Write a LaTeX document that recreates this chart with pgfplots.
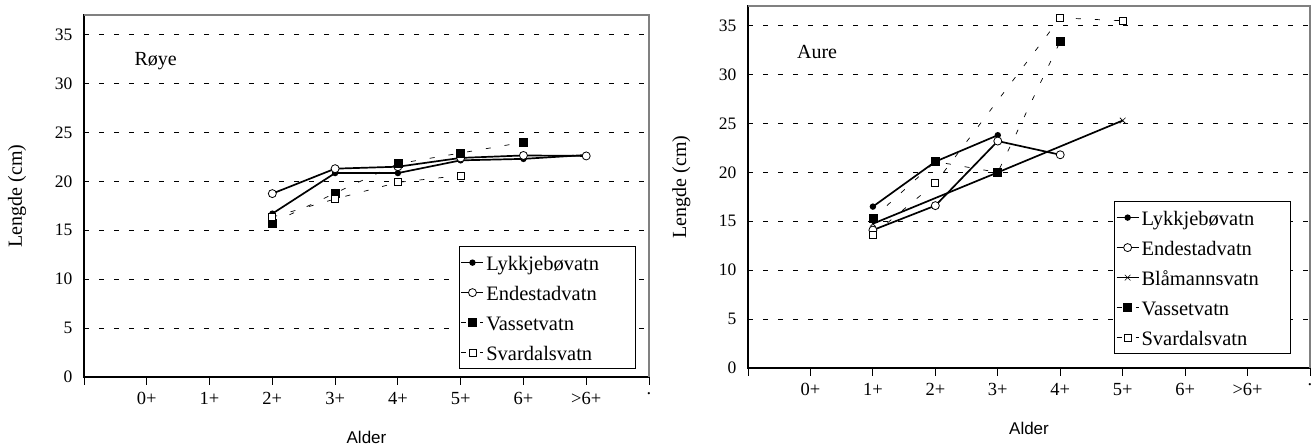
\documentclass[border=0pt]{standalone}
\usepackage{pgfplots}
\pgfplotsset{compat=1.18}
\usepackage{pgfplotstable}
\usepackage{fontspec}
\setmainfont{Liberation Serif}
\newfontfamily\arialfont{Liberation Sans}
\newcommand{\LE}[1]{\makebox[146bp][l]{#1}}

% Roye (left)
\pgfplotstableread{
x y
3 16.7
4 20.85
5 20.85
6 22.15
7 22.3
8 22.7
}\roeLykk
\pgfplotstableread{
x y
3 18.75
4 21.3
5 21.5
6 22.4
7 22.65
8 22.6
}\roeEnde
\pgfplotstableread{
x y
3 15.75
4 18.8
5 21.8
6 22.9
7 24.0
}\roeVass
\pgfplotstableread{
x y
3 16.35
4 18.2
5 19.9
6 20.6
}\roeSvar
% Aure (right)
\pgfplotstableread{
x y
2 16.5
3 21.1
4 23.8
}\aurLykk
\pgfplotstableread{
x y
2 14.1
3 16.6
4 23.2
5 21.8
}\aurEnde
\pgfplotstableread{
x y
2 14.75
4 20.0
6 25.3
}\aurBlaa
\pgfplotstableread{
x y
2 15.3
3 21.1
4 20.0
5 33.4
}\aurVass
\pgfplotstableread{
x y
2 13.6
3 18.9
5 35.8
6 35.5
}\aurSvar

\pgfplotsset{
 chart/.style={
   scale only axis, anchor=south west,
   xmin=0, xmax=9, ymin=0, ymax=37,
   xtick={0,...,9}, xticklabels={,0+,1+,2+,3+,4+,5+,6+,>6+,.},
   ytick={0,5,...,35},
   tick pos=left, tick align=outside,
   major tick length=8bp,
   ytick style={draw=none},
   xtick style={black, line width=0.8bp},
   axis line style={black, line width=1.2bp},
   ymajorgrids,
   major grid style={black, line width=0.7bp, dash pattern=on 5bp off 10bp},
   /pgf/number format/assume math mode=true,
   yticklabel style={font=\fontsize{17.5bp}{17.5bp}\selectfont},
   xticklabel style={font=\fontsize{18.5bp}{18.5bp}\selectfont, yshift=-4bp},
   ylabel={Lengde (cm)},
   ylabel style={at={(axis description cs:-0.1186,0.5)}, anchor=center, font=\fontsize{20bp}{20bp}\selectfont},
   xlabel={Alder},
   xlabel style={at={(axis description cs:0.5,-0.1658)}, anchor=center, font=\arialfont\fontsize{17bp}{17bp}\selectfont},
   legend cell align=left,
   legend style={draw=black, line width=0.8bp, font=\fontsize{20.5bp}{24bp}\selectfont, inner sep=1bp, row sep=0bp, column sep=0bp,
     nodes={text height=17bp, text depth=2bp, inner xsep=2bp, inner ysep=5.5bp}},
   legend image code/.code={\draw[mark repeat=2,mark phase=2] plot coordinates {(0bp,0bp) (11bp,0bp) (22bp,0bp)};},
   clip=false,
 },
 lykk/.style={black, line width=1.7bp, mark=*, mark size=2.3bp, mark options={solid, fill=black}},
 ende/.style={black, line width=1.7bp, mark=*, mark size=4bp, mark options={solid, fill=white, line width=0.8bp}},
 blaa/.style={black, line width=1.7bp, mark=x, mark size=4bp, mark options={solid, line width=0.6bp}},
 vass/.style={black, line width=0.7bp, dash pattern=on 5bp off 14bp, mark=square*, mark size=4bp, mark options={solid, fill=black}},
 svar/.style={black, line width=0.7bp, dash pattern=on 5bp off 14bp, mark=square*, mark size=3.5bp, mark options={solid, fill=white, line width=0.8bp}},
}

\begin{document}
\begin{tikzpicture}
\useasboundingbox (0bp,0bp) rectangle (1313bp,445bp);
\begin{axis}[chart, at={(84bp,68bp)}, width=565bp, height=361.9bp,
  legend style={at={(0.9765,0.022)}, anchor=south east}]
  \addplot[lykk] table {\roeLykk}; \addlegendentry{\LE{Lykkjebøvatn}}
  \addplot[ende] table {\roeEnde}; \addlegendentry{\LE{Endestadvatn}}
  \addplot[vass] table {\roeVass}; \addlegendentry{\LE{Vassetvatn}}
  \addplot[svar] table {\roeSvar}; \addlegendentry{\LE{Svardalsvatn}}
  \draw[gray, line width=1.2bp] (rel axis cs:0,1) -- (rel axis cs:1,1) -- (rel axis cs:1,0);
  \node[font=\fontsize{20bp}{20bp}\selectfont] at (rel axis cs:0.127,0.873) {Røye};
\end{axis}
\begin{axis}[chart, at={(748bp,77bp)}, width=562bp, height=361.9bp,
  legend style={at={(0.966,0.0387)}, anchor=south east}]
  \addplot[lykk] table {\aurLykk}; \addlegendentry{\LE{Lykkjebøvatn}}
  \addplot[ende] table {\aurEnde}; \addlegendentry{\LE{Endestadvatn}}
  \addplot[blaa] table {\aurBlaa}; \addlegendentry{\LE{Blåmannsvatn}}
  \addplot[vass] table {\aurVass}; \addlegendentry{\LE{Vassetvatn}}
  \addplot[svar] table {\aurSvar}; \addlegendentry{\LE{Svardalsvatn}}
  \draw[gray, line width=1.2bp] (rel axis cs:0,1) -- (rel axis cs:1,1) -- (rel axis cs:1,0);
  \node[font=\fontsize{20bp}{20bp}\selectfont] at (rel axis cs:0.123,0.873) {Aure};
\end{axis}
\end{tikzpicture}
\end{document}
